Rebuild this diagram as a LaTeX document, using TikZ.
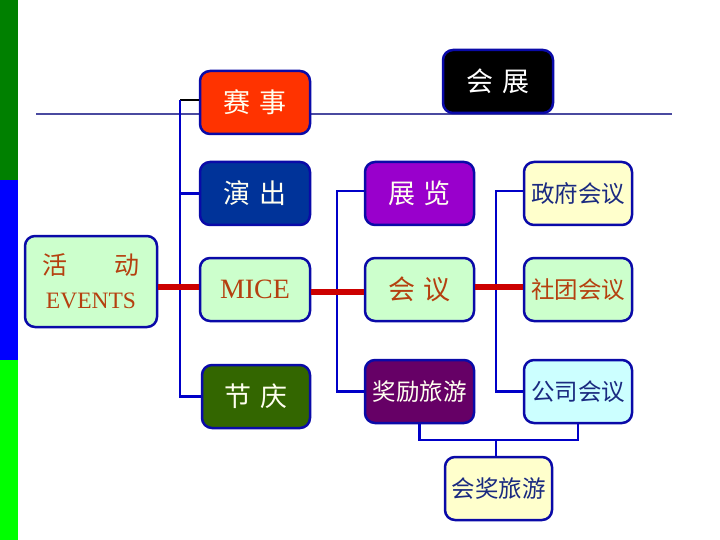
\documentclass[tikz,border=0pt]{standalone}
\usepackage{fontspec}
\setmainfont{Liberation Serif}
\newfontfamily\cjk{Noto Sans CJK SC}
\definecolor{bordc}{HTML}{0A0AA8}
\definecolor{linec}{HTML}{0000C8}
\definecolor{redc}{HTML}{CC0000}
\definecolor{hline}{HTML}{4A4AA0}
\definecolor{lgreen}{HTML}{CCFFCC}
\definecolor{lyellow}{HTML}{FFFFCC}
\definecolor{lcyan}{HTML}{CCFFFF}
\definecolor{brownt}{HTML}{B5400F}
\definecolor{bluet}{HTML}{1A2A80}
\definecolor{whitet}{HTML}{FFFFF0}
\tikzset{
  box/.style={draw=bordc, line width=2.5pt, rounded corners=10pt, minimum width=110pt, minimum height=63pt, inner sep=0pt, font=\cjk\fontsize{27}{30}\selectfont, align=center},
  four/.style={font=\cjk\fontsize{23.5}{26}\selectfont},
  bl/.style={draw=linec, line width=2.5pt},
  rl/.style={draw=redc, line width=6pt},
}
\begin{document}
\begin{tikzpicture}[x=1pt,y=-1pt]
\useasboundingbox (0,0) rectangle (720,540);
\fill[white] (0,0) rectangle (720,540);
\fill[green!50!black] (0,0) rectangle (18,180);
\fill[blue] (0,180) rectangle (18,360);
\fill[green] (0,360) rectangle (18,540);
\draw[hline, line width=2pt] (36,114) -- (672,114);

\node[box, fill={rgb,255:red,255;green,51;blue,0}, text=whitet] (saishi) at (255,102.5) {赛\,\,事};
\node[box, fill=black, text=white] (huizhan) at (498,81.5) {会\,\,展};
\node[box, fill={rgb,255:red,0;green,51;blue,153}, text=whitet] (yanchu) at (255,193.5) {演\,\,出};
\node[box, fill=lgreen, text=brownt, minimum width=132pt, minimum height=91pt, font=\cjk\fontsize{25}{34}\selectfont] (huodong) at (91,281.5) {活\hspace{1.9em}动\\{\rmfamily\fontsize{23.5}{26}\selectfont EVENTS}};
\node[box, fill=lgreen, text=brownt] (mice) at (255,289.5) {{\rmfamily\fontsize{28}{30}\selectfont MICE}};
\node[box, fill={rgb,255:red,51;green,102;blue,0}, text=whitet, minimum width=108pt] (jieqing) at (256,396.5) {节\,\,庆};
\node[box, fill={rgb,255:red,153;green,0;blue,204}, text=whitet, minimum width=109pt] (zhanlan) at (419.5,193.5) {展\,\,览};
\node[box, fill=lgreen, text=brownt, minimum width=109pt] (huiyi) at (419.5,289.5) {会\,\,议};
\node[box, four, fill={rgb,255:red,102;green,0;blue,102}, text=whitet, minimum width=109pt] (jiangli) at (419.5,391.5) {奖励旅游};
\node[box, four, fill=lyellow, text=bluet, minimum width=108pt] (zhengfu) at (578,193.5) {政府会议};
\node[box, four, fill=lgreen, text=brownt, minimum width=108pt] (shetuan) at (578,289.5) {社团会议};
\node[box, four, fill=lcyan, text=bluet, minimum width=108pt] (gongsi) at (578,391.5) {公司会议};
\node[box, four, fill=lyellow, text=bluet, minimum width=107pt] (huijiang) at (498.5,488.5) {会奖旅游};

% left bracket
\coordinate (tA) at (180,100);
\draw[black, line width=2.5pt] (saishi.west |- tA) -- (tA);
\draw[bl] (tA) |- (jieqing.west);
\draw[bl] (yanchu.west) -- (yanchu.west -| tA);
\draw[rl] (huodong.east |- 0,287) -- (mice.west |- 0,287);
% middle bracket
\coordinate (tB) at (337,191);
\draw[bl] (zhanlan.west |- tB) -- (tB) |- (jiangli.west);
\draw[rl] (mice.east |- 0,292) -- (huiyi.west |- 0,292);
% right bracket
\coordinate (tC) at (496,191);
\draw[bl] (zhengfu.west |- tC) -- (tC) |- (gongsi.west);
\draw[rl] (huiyi.east |- 0,287) -- (shetuan.west |- 0,287);
% bottom
\coordinate (tD) at (496,440);
\draw[bl] (jiangli.south) |- (tD) -| (gongsi.south);
\draw[bl] (tD) -- (tD |- huijiang.north);
\end{tikzpicture}
\end{document}
